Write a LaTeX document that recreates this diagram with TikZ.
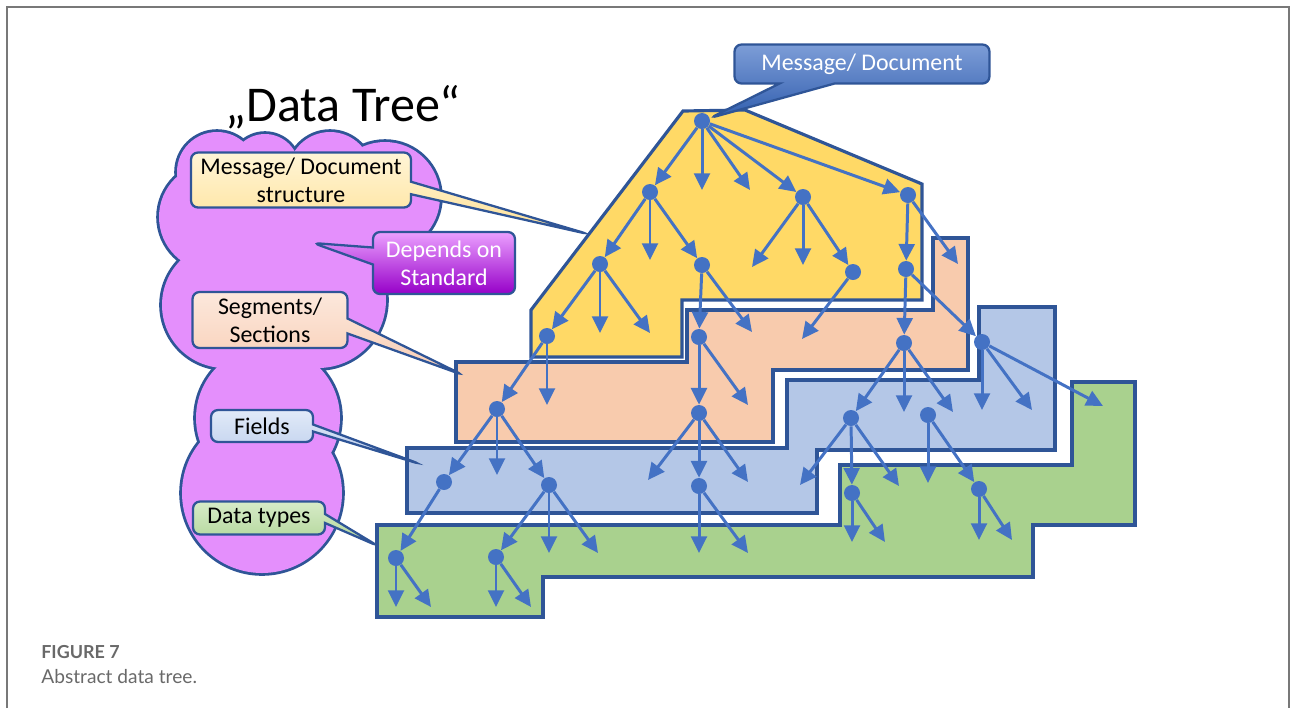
\documentclass[tikz,border=0pt]{standalone}
\usepackage{fontspec}
\setmainfont{Carlito}
\newfontfamily\capfont{Lato}
\usetikzlibrary{
    arrows.meta,
    shapes.callouts
}
\definecolor{edgeBlue}{RGB}{47, 85, 151}
\definecolor{treeBlue}{RGB}{68, 114, 196}
\definecolor{layerYellow}{RGB}{255, 217, 102}
\definecolor{layerOrange}{RGB}{248, 203, 173}
\definecolor{layerBlue}{RGB}{180, 199, 231}
\definecolor{layerGreen}{RGB}{169, 209, 142}
\definecolor{cloudPink}{RGB}{228, 143, 252}
\definecolor{frameGray}{RGB}{120, 120, 120}
\definecolor{captionGray}{RGB}{105, 105, 105}
\definecolor{msgTop}{RGB}{125, 157, 215}
\definecolor{msgBottom}{RGB}{50, 95, 175}
\definecolor{structTop}{RGB}{255, 245, 215}
\definecolor{structBottom}{RGB}{255, 225, 150}
\definecolor{dependsTop}{RGB}{235, 160, 255}
\definecolor{dependsBottom}{RGB}{150, 0, 200}
\definecolor{segTop}{RGB}{252, 232, 220}
\definecolor{segBottom}{RGB}{248, 205, 180}
\definecolor{fieldsTop}{RGB}{225, 234, 248}
\definecolor{fieldsBottom}{RGB}{185, 203, 235}
\definecolor{typesTop}{RGB}{215, 235, 200}
\definecolor{typesBottom}{RGB}{175, 213, 150}
\tikzset{
    layer/.style={
        draw=edgeBlue,
        line width=1.8pt,
        line join=miter
    },
    dot/.style={
        circle,
        fill=treeBlue,
        inner sep=0pt,
        minimum size=0.32cm
    },
    link/.style={
        draw=treeBlue,
        line width=1.7pt,
        -{Triangle[length=9.5pt, width=9pt]}
    },
    calloutBox/.style={
        rectangle callout,
        rounded corners=4pt,
        draw=edgeBlue,
        line width=1.3pt,
        inner sep=0pt,
        align=center,
        font=\fontsize{13.6}{15.8}\selectfont
    },
    caption/.style={
        anchor=base west,
        inner sep=0pt,
        text=captionGray
    }
}

\begin{document}
\begin{tikzpicture}[x=0.02cm, y=-0.02cm]
    \useasboundingbox (0,0) rectangle (1292,708);
    \draw[frameGray, line width=1.1pt] (7,708) -- (7,7) -- (1289,7) -- (1289,708);

    % Cloud (outline first, fill on top)
    \foreach \cx/\cy/\r in {217/172/40, 265/168/34, 330/174/42, 385/197/55, 213/217/54, 225/305/63, 318/300/68, 268/418/72, 262/493/80, 290/250/80}
        \draw[edgeBlue, line width=3.2pt] (\cx,\cy) circle[radius=\r*0.02cm];
    \foreach \cx/\cy/\r in {217/172/40, 265/168/34, 330/174/42, 385/197/55, 213/217/54, 225/305/63, 318/300/68, 268/418/72, 262/493/80, 290/250/80}
        \fill[cloudPink] (\cx,\cy) circle[radius=\r*0.02cm];

    \node[font=\fontsize{28.5}{32}\selectfont, anchor=base] (title) at (343,121) {„Data Tree“};

    % 4. Data types layer (bottom)
    \draw[layer, fill=layerGreen] (377,525) -- (840,525) -- (840,465) -- (1072,465) -- (1072,382) -- (1135,382) -- (1135,525) -- (1033,525) -- (1033,577) -- (543,577) -- (543,617) -- (377,617) -- cycle;
    % 3. Fields layer
    \draw[layer, fill=layerBlue] (407,448) -- (787,448) -- (787,380) -- (979,380) -- (979,307) -- (1055,307) -- (1055,450) -- (817,450) -- (817,513) -- (407,513) -- cycle;
    % 2. Segments layer
    \draw[layer, fill=layerOrange] (456,362) -- (687,362) -- (687,310) -- (933,310) -- (933,238) -- (968,238) -- (968,370) -- (773,370) -- (773,442) -- (456,442) -- cycle;
    % 1. Message structure layer (top)
    \draw[layer, fill=layerYellow] (683,111) -- (745,110) -- (922,184) -- (922,300) -- (682,300) -- (682,357) -- (531,357) -- (531,310) -- cycle;

    % Tree dots
    \node[dot] (root) at (702,121) {};
    \node[dot] (a1) at (650,192) {};
    \node[dot] (a2) at (803,197) {};
    \node[dot] (a3) at (908,195) {};
    \node[dot] (b1) at (600,264) {};
    \node[dot] (b2) at (702,265) {};
    \node[dot] (b3) at (853,272) {};
    \node[dot] (b4) at (906,269) {};
    \node[dot] (c1) at (547,336) {};
    \node[dot] (c2) at (699,337) {};
    \node[dot] (c3) at (904,343) {};
    \node[dot] (c4) at (982,342) {};
    \node[dot] (d1) at (497,409) {};
    \node[dot] (d2) at (699,413) {};
    \node[dot] (d3) at (851,418) {};
    \node[dot] (d4) at (928,415) {};
    \node[dot] (e1) at (444,482) {};
    \node[dot] (e2) at (549,485) {};
    \node[dot] (e3) at (699,486) {};
    \node[dot] (e4) at (852,493) {};
    \node[dot] (e5) at (979,489) {};
    \node[dot] (f1) at (396,558) {};
    \node[dot] (f2) at (496,557) {};

    % Leaf ends
    \coordinate (rootL1) at (702,190); \coordinate (rootL2) at (750,190);
    \coordinate (a1L1) at (650,260);
    \coordinate (a2L1) at (752,267); \coordinate (a2L2) at (803,265);
    \coordinate (a3L1) at (958,264);
    \coordinate (b1L1) at (600,333); \coordinate (b1L2) at (650,333);
    \coordinate (b2L1) at (752,332);
    \coordinate (b3L1) at (802,339);
    \coordinate (c1L1) at (547,405);
    \coordinate (c2L1) at (748,405);
    \coordinate (c3L1) at (904,412); \coordinate (c3L2) at (953,412);
    \coordinate (c4L1) at (982,410); \coordinate (c4L2) at (1032,410); \coordinate (c4L3) at (1103,406);
    \coordinate (d1L1) at (497,475);
    \coordinate (d2L1) at (648,480); \coordinate (d2L2) at (748,482);
    \coordinate (d3L1) at (800,485); \coordinate (d3L2) at (899,486);
    \coordinate (d4L1) at (928,483);
    \coordinate (e2L1) at (549,553); \coordinate (e2L2) at (598,553);
    \coordinate (e3L1) at (699,553); \coordinate (e3L2) at (748,553);
    \coordinate (e4L1) at (852,542); \coordinate (e4L2) at (885,542);
    \coordinate (e5L1) at (979,540); \coordinate (e5L2) at (1012,540);
    \coordinate (f1L1) at (396,607); \coordinate (f1L2) at (431,607);
    \coordinate (f2L1) at (496,607); \coordinate (f2L2) at (531,607);

    % Connections
    \draw[link] (root) -- (a1); \draw[link] (root) -- (rootL1); \draw[link] (root) -- (rootL2);
    \draw[link] (root) -- (a2); \draw[link] (root) -- (a3);
    \draw[link] (a1) -- (b1); \draw[link] (a1) -- (a1L1); \draw[link] (a1) -- (b2);
    \draw[link] (a2) -- (a2L1); \draw[link] (a2) -- (a2L2); \draw[link] (a2) -- (b3);
    \draw[link] (a3) -- (b4); \draw[link] (a3) -- (a3L1);
    \draw[link] (b1) -- (c1); \draw[link] (b1) -- (b1L1); \draw[link] (b1) -- (b1L2);
    \draw[link] (b2) -- (c2); \draw[link] (b2) -- (b2L1);
    \draw[link] (b3) -- (b3L1);
    \draw[link] (b4) -- (c3); \draw[link] (b4) -- (c4);
    \draw[link] (c1) -- (d1); \draw[link] (c1) -- (c1L1);
    \draw[link] (c2) -- (d2); \draw[link] (c2) -- (c2L1);
    \draw[link] (c3) -- (d3); \draw[link] (c3) -- (c3L1); \draw[link] (c3) -- (c3L2);
    \draw[link] (c4) -- (c4L1); \draw[link] (c4) -- (c4L2); \draw[link] (c4) -- (c4L3);
    \draw[link] (d1) -- (e1); \draw[link] (d1) -- (d1L1); \draw[link] (d1) -- (e2);
    \draw[link] (d2) -- (d2L1); \draw[link] (d2) -- (e3); \draw[link] (d2) -- (d2L2);
    \draw[link] (d3) -- (d3L1); \draw[link] (d3) -- (e4); \draw[link] (d3) -- (d3L2);
    \draw[link] (d4) -- (d4L1); \draw[link] (d4) -- (e5);
    \draw[link] (e1) -- (f1);
    \draw[link] (e2) -- (f2); \draw[link] (e2) -- (e2L1); \draw[link] (e2) -- (e2L2);
    \draw[link] (e3) -- (e3L1); \draw[link] (e3) -- (e3L2);
    \draw[link] (e4) -- (e4L1); \draw[link] (e4) -- (e4L2);
    \draw[link] (e5) -- (e5L1); \draw[link] (e5) -- (e5L2);
    \draw[link] (f1) -- (f1L1); \draw[link] (f1) -- (f1L2);
    \draw[link] (f2) -- (f2L1); \draw[link] (f2) -- (f2L2);

    % Callouts
    \coordinate (msgTip) at (710,118);
    \coordinate (structTip) at (588,234);
    \coordinate (dependsTip) at (313,243);
    \coordinate (segTip) at (463,375);
    \coordinate (fieldsTip) at (420,464);
    \coordinate (typesTip) at (378,546);

    \node[calloutBox, top color=msgTop, bottom color=msgBottom, text=white, minimum width=5.1cm, minimum height=0.78cm, callout absolute pointer={(msgTip)}, callout pointer width=1.1cm] (msgBox) at (862,64) {Message/ Document};
    \node[calloutBox, top color=structTop, bottom color=structBottom, minimum width=4.4cm, minimum height=1.1cm, callout absolute pointer={(structTip)}, callout pointer width=0.25cm] (structBox) at (301,180) {Message/ Document\\structure};
    \node[calloutBox, top color=dependsTop, bottom color=dependsBottom, text=white, minimum width=2.84cm, minimum height=1.24cm, callout absolute pointer={(dependsTip)}, callout pointer width=0.34cm] (dependsBox) at (444,263) {Depends on\\Standard};
    \node[calloutBox, top color=segTop, bottom color=segBottom, minimum width=3.1cm, minimum height=1.12cm, callout absolute pointer={(segTip)}, callout pointer width=0.3cm] (segBox) at (270,320) {Segments/\\Sections};
    \node[calloutBox, top color=fieldsTop, bottom color=fieldsBottom, minimum width=2.04cm, minimum height=0.64cm, callout absolute pointer={(fieldsTip)}, callout pointer width=0.14cm] (fieldsBox) at (262,426) {Fields};
    \node[calloutBox, top color=typesTop, bottom color=typesBottom, minimum width=2.64cm, minimum height=0.66cm, callout absolute pointer={(typesTip)}, callout pointer width=0.18cm] (typesBox) at (259,518) {Data types};

    % Caption
    \node[caption, font=\capfont\bfseries\fontsize{10.2}{12}\selectfont] (figNum) at (41,658) {FIGURE 7};
    \node[caption, font=\capfont\fontsize{10.9}{12}\selectfont] (figText) at (41,683) {Abstract data tree.};
\end{tikzpicture}
\end{document}
